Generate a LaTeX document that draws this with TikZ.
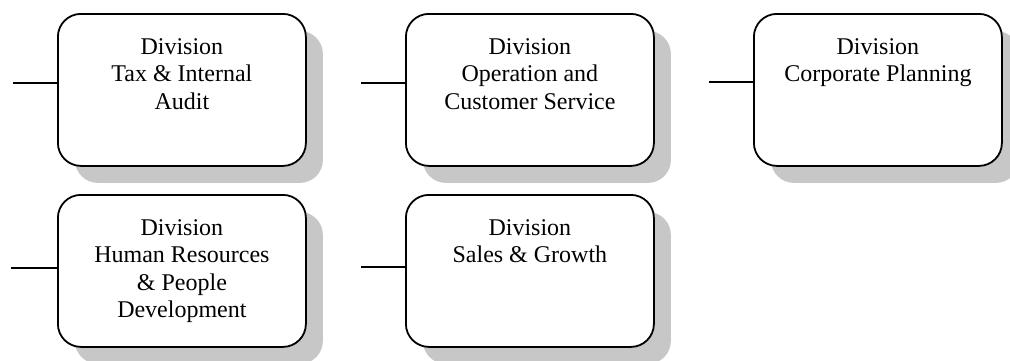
\documentclass[tikz,border=0pt]{standalone}
\usepackage{fontspec}
\setmainfont{Liberation Serif}
\usetikzlibrary{shadows}
\begin{document}
\begin{tikzpicture}[x=1pt,y=-1pt,
  divbox/.style={draw, line width=1.8pt, rounded corners=23pt, fill=white,
    minimum width=248pt, minimum height=152pt, inner sep=0pt, anchor=north west,
    drop shadow={shadow xshift=17pt, shadow yshift=-17pt, fill=black!22, opacity=1}},
  divtext/.style={anchor=north, align=center, inner sep=0pt,
    font=\fontsize{24}{27.5}\selectfont},
  link/.style={line width=1.8pt}]
\path[use as bounding box, clip] (0,0) rectangle (1010,360);

\node[divbox] (b1) at (57,13) {};
\node[divbox] (b2) at (405,13) {};
\node[divbox] (b3) at (753,13) {};
\node[divbox] (b4) at (57,194) {};
\node[divbox] (b5) at (405,194) {};

\node[divtext] (t1) at ([yshift=-25pt]b1.north) {Division\\Tax \& Internal\\Audit};
\node[divtext] (t2) at ([yshift=-25pt]b2.north) {Division\\Operation and\\Customer Service};
\node[divtext] (t3) at ([yshift=-25pt]b3.north) {Division\\Corporate Planning};
\node[divtext] (t4) at ([yshift=-25pt]b4.north) {Division\\Human Resources\\\& People\\Development};
\node[divtext] (t5) at ([yshift=-25pt]b5.north) {Division\\Sales \& Growth};

\coordinate (c1) at (13,83);
\coordinate (c2) at (361,83);
\coordinate (c3) at (709,82);
\coordinate (c4) at (11,268);
\coordinate (c5) at (361,267);

\draw[link] (c1) -- (c1 -| b1.west);
\draw[link] (c2) -- (c2 -| b2.west);
\draw[link] (c3) -- (c3 -| b3.west);
\draw[link] (c4) -- (c4 -| b4.west);
\draw[link] (c5) -- (c5 -| b5.west);
\end{tikzpicture}
\end{document}
